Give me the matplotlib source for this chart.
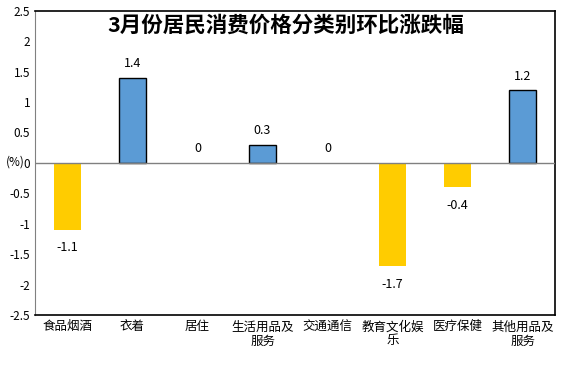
import matplotlib.pyplot as plt
import numpy as np

plt.rcParams['font.family'] = ['Noto Sans CJK SC', 'DejaVu Sans']

cats = ['食品烟酒', '衣着', '居住', '生活用品及\n服务', '交通通信', '教育文化娱\n乐', '医疗保健', '其他用品及\n服务']
vals = [-1.1, 1.4, 0, 0.3, 0, -1.7, -0.4, 1.2]
yticks = [-2.5, -2, -1.5, -1, -0.5, 0, 0.5, 1, 1.5, 2, 2.5]
ytick_labels = ['-2.5', '-2', '-1.5', '-1', '-0.5', '0', '0.5', '1', '1.5', '2', '2.5']

fig = plt.figure(figsize=(5.74, 3.74), dpi=100)
ax = fig.add_axes([0.061, 0.158, 0.906, 0.813])

x = np.arange(len(cats))
for xi, v in zip(x, vals):
    if v > 0:
        ax.bar(xi, v, width=0.42, color='#5B9BD5', edgecolor='black', linewidth=1, zorder=3)
    elif v < 0:
        ax.bar(xi, v, width=0.42, color='#FFCC00', edgecolor='none', zorder=3)
    lab = '{:g}'.format(v)
    if v < 0:
        ax.annotate(lab, (xi, v), xytext=(0, -13), textcoords='offset points',
                    ha='center', va='center', fontsize=9)
    else:
        ax.annotate(lab, (xi, v), xytext=(0, 10), textcoords='offset points',
                    ha='center', va='center', fontsize=9)

ax.axhline(0, color='#808080', linewidth=1, zorder=4)
ax.set_xlim(-0.5, len(cats) - 0.5)
ax.set_ylim(-2.5, 2.5)
ax.set_yticks(yticks)
ax.set_yticklabels(ytick_labels, fontsize=8.5)
ax.set_xticks(x)
ax.set_xticklabels(cats, fontsize=9, linespacing=1.1)
ax.tick_params(axis='both', length=0)
ax.tick_params(axis='x', pad=4)

for s in ['top', 'right', 'bottom']:
    ax.spines[s].set_color('black')
    ax.spines[s].set_linewidth(1.2)
ax.spines['left'].set_color('#808080')

ax.set_title('3月份居民消费价格分类别环比涨跌幅', fontsize=15.5, fontweight='bold', x=0.482, y=0.905)
fig.text(0.01, 0.567, '(%)', fontsize=8.5, ha='left', va='center')

plt.savefig('out.png', dpi=100)
